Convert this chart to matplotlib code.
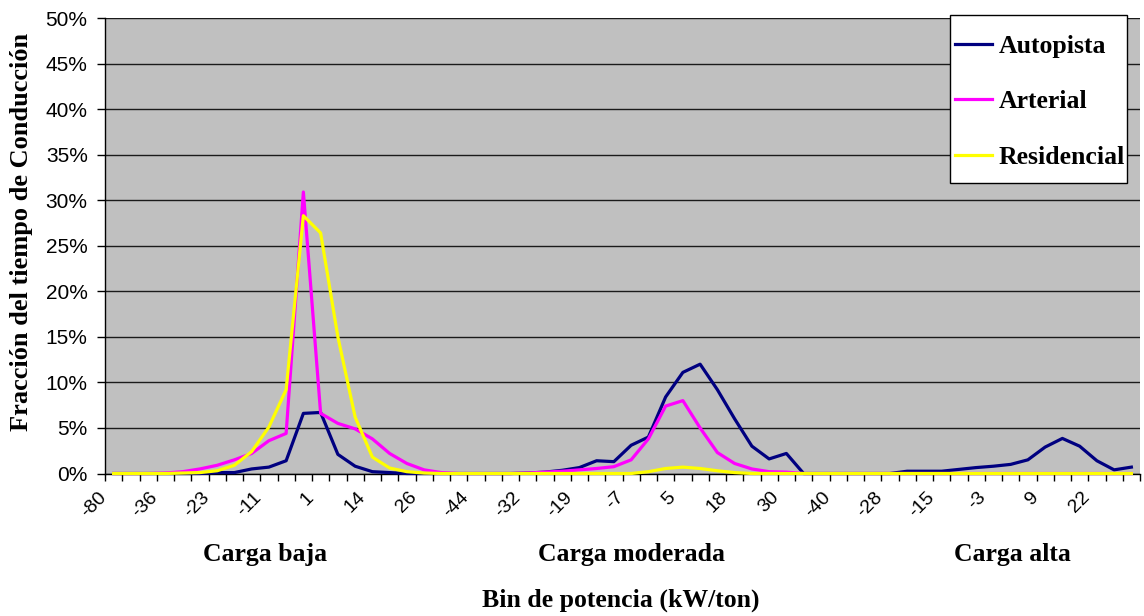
import matplotlib.pyplot as plt
import matplotlib.transforms as mtransforms
from matplotlib.patches import Rectangle
from matplotlib.ticker import FixedLocator, FuncFormatter

plt.rcParams['font.family'] = ['Liberation Sans', 'DejaVu Sans']

# power bins (kW/ton), repeated for each load level
bins = [-80, -44, -40, -36, -32, -28, -23, -19, -15, -11,
        -7, -3, 1, 5, 9, 14, 18, 22, 26, 30]
load_groups = ["Carga baja", "Carga moderada", "Carga alta"]
series_names = ["Autopista", "Arterial", "Residencial"]

# % of driving time per bin (low | moderate | high load)
autopista = [0, 0, 0, 0, 0, 0, 0.1, 0.1, 0.5, 0.7, 1.4, 6.6, 6.7, 2.1, 0.8, 0.2, 0.1, 0, 0, 0,
             0, 0, 0, 0, 0.05, 0.15, 0.35, 0.65, 1.4, 1.3, 3.1, 4.0, 8.4, 11.1, 12.0, 9.2, 6.0, 3.0, 1.6, 2.2,
             0, 0, 0, 0, 0, 0, 0.25, 0.25, 0.25, 0.45, 0.65, 0.8, 1.0, 1.5, 2.9, 3.85, 3.0, 1.4, 0.4, 0.7]
arterial = [0, 0, 0, 0.05, 0.2, 0.5, 0.9, 1.5, 2.2, 3.6, 4.4, 30.9, 6.6, 5.5, 4.9, 3.8, 2.2, 1.1, 0.4, 0.1,
            0, 0, 0, 0, 0.05, 0.15, 0.25, 0.4, 0.55, 0.75, 1.5, 3.8, 7.4, 8.0, 5.0, 2.3, 1.1, 0.5, 0.2, 0.15,
            0, 0, 0, 0, 0, 0, 0, 0, 0, 0, 0, 0, 0, 0, 0, 0, 0, 0, 0, 0]
residencial = [0, 0, 0, 0, 0.05, 0.1, 0.3, 0.9, 2.4, 5.1, 9.2, 28.3, 26.4, 15.0, 6.2, 1.8, 0.6, 0.2, 0.05, 0,
               0, 0, 0, 0, 0, 0, 0, 0, 0, 0, 0, 0.2, 0.55, 0.7, 0.55, 0.3, 0.1, 0, 0, 0,
               0, 0, 0, 0, 0, 0, 0, 0, 0, 0, 0, 0, 0, 0, 0, 0, 0, 0, 0, 0]

colors = ["#000080", "#FF00FF", "#FFFF00"]
serif = ['Liberation Serif', 'DejaVu Serif']

categories = [b for _ in load_groups for b in bins]
x = list(range(len(categories)))

W, H = 1144, 616
fig = plt.figure(figsize=(W / 100, H / 100), dpi=100)
ax = fig.add_axes([105 / W, 1 - 473.5 / H, (1140 - 105) / W, (473.5 - 18) / H])
ax.set_facecolor("#C0C0C0")

lines = []
for vals, name, c in zip([autopista, arterial, residencial], series_names, colors):
    ln, = ax.plot(x, vals, color=c, lw=2.3, label=name, clip_on=False, zorder=3)
    lines.append(ln)

ax.set_xlim(-0.5, len(categories) - 0.5)
ax.set_ylim(0, 50)
ax.set_yticks(range(0, 51, 5))
ax.yaxis.set_major_formatter(FuncFormatter(lambda v, p: f"{v:.0f}%"))
ax.yaxis.grid(True, color="#1a1a1a", lw=1.0)
ax.set_axisbelow(True)
ax.tick_params(axis='y', length=6, width=1, pad=6.5, labelsize=15, colors='black')

label_idx = list(range(0, len(categories), 3))
ax.set_xticks(label_idx)
ax.set_xticklabels([str(categories[i]) for i in label_idx], rotation=45, ha='right', fontsize=14)
ax.xaxis.set_minor_locator(FixedLocator([i - 0.5 for i in range(len(categories) + 1)]))
ax.tick_params(axis='x', which='major', length=0, pad=11)
ax.tick_params(axis='x', which='minor', length=5, width=1)
shift = mtransforms.ScaledTranslation(-4 / 100, 0, fig.dpi_scale_trans)
for lab in ax.get_xticklabels():
    lab.set_transform(lab.get_transform() + shift)

for side in ['top', 'right']:
    ax.spines[side].set_visible(False)
for side in ['left', 'bottom']:
    ax.spines[side].set_color('black')
    ax.spines[side].set_linewidth(1)

fig.text(22 / W, 1 - 232 / H, "Fracción del tiempo de Conducción", rotation=90,
         ha='center', va='center', fontsize=19, fontweight='bold', family=serif)
for name, px in zip(load_groups, [265, 632, 1012]):
    fig.text(px / W, 1 - 555 / H, name, ha='center', va='center',
             fontsize=18.5, fontweight='bold', family=serif)
fig.text(621 / W, 1 - 600 / H, "Bin de potencia (kW/ton)", ha='center', va='center',
         fontsize=18.5, fontweight='bold', family=serif)

# legend box: white frame drawn separately so the rows can sit loosely inside
box = Rectangle((950 / W, 1 - 183 / H), 177 / W, 168 / H, transform=fig.transFigure,
                facecolor='white', edgecolor='black', lw=1, zorder=4)
fig.add_artist(box)
leg = fig.legend(handles=lines, loc='upper left', bbox_to_anchor=(955 / W, 1 - 35 / H),
                 frameon=False, borderaxespad=0, borderpad=0, handlelength=1.45,
                 handletextpad=0.25, labelspacing=1.26,
                 prop={'family': serif, 'weight': 'bold', 'size': 18.5})
leg.set_zorder(5)

fig.savefig("out.png", dpi=100)
